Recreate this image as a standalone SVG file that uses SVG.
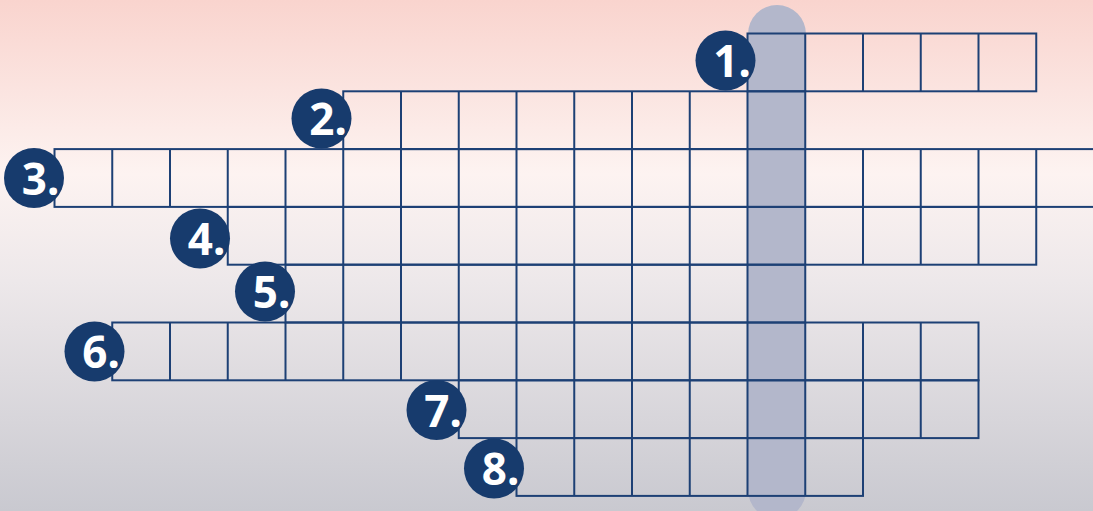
<svg xmlns="http://www.w3.org/2000/svg" width="1093" height="511" viewBox="0 0 1093 511">
  <defs>
    <linearGradient id="bg" x1="0" y1="0" x2="0" y2="1">
      <stop offset="0" stop-color="#f9d4ce"/>
      <stop offset="0.34" stop-color="#fdf3f1"/>
      <stop offset="0.55" stop-color="#ede8ea"/>
      <stop offset="1" stop-color="#c9c9d0"/>
    </linearGradient>
    <style>
      .cells { fill: none; stroke: #1d4075; stroke-width: 2; }
      .badge { fill: #173b6d; }
      .num { fill: #ffffff; font-family: "Noto Sans", "DejaVu Sans", sans-serif; font-weight: 700; font-size: 44px; text-anchor: middle; }
    </style>
  </defs>
  <rect x="0" y="0" width="1093" height="511" fill="url(#bg)"/>
  <rect id="highlight" x="748" y="5" width="58" height="514" rx="29" fill="#b3b7cb"/>

  <g id="clue-1">
    <rect class="cells" x="747.5" y="33.5" width="288.75" height="57.8"/>
    <path class="cells" d="M805.25 33.5V91.3M863 33.5V91.3M920.75 33.5V91.3M978.5 33.5V91.3"/>
  </g>
  <g id="clue-2">
    <rect class="cells" x="343.25" y="91.3" width="462" height="57.8"/>
    <path class="cells" d="M401 91.3V149.1M458.75 91.3V149.1M516.5 91.3V149.1M574.25 91.3V149.1M632 91.3V149.1M689.75 91.3V149.1M747.5 91.3V149.1"/>
  </g>
  <g id="clue-3">
    <rect class="cells" x="54.5" y="149.1" width="1039.5" height="57.8"/>
    <path class="cells" d="M112.25 149.1V206.9M170 149.1V206.9M227.75 149.1V206.9M285.5 149.1V206.9M343.25 149.1V206.9M401 149.1V206.9M458.75 149.1V206.9M516.5 149.1V206.9M574.25 149.1V206.9M632 149.1V206.9M689.75 149.1V206.9M747.5 149.1V206.9M805.25 149.1V206.9M863 149.1V206.9M920.75 149.1V206.9M978.5 149.1V206.9M1036.25 149.1V206.9"/>
  </g>
  <g id="clue-4">
    <rect class="cells" x="227.75" y="206.9" width="808.5" height="57.8"/>
    <path class="cells" d="M285.5 206.9V264.7M343.25 206.9V264.7M401 206.9V264.7M458.75 206.9V264.7M516.5 206.9V264.7M574.25 206.9V264.7M632 206.9V264.7M689.75 206.9V264.7M747.5 206.9V264.7M805.25 206.9V264.7M863 206.9V264.7M920.75 206.9V264.7M978.5 206.9V264.7"/>
  </g>
  <g id="clue-5">
    <rect class="cells" x="285.5" y="264.7" width="519.75" height="57.8"/>
    <path class="cells" d="M343.25 264.7V322.5M401 264.7V322.5M458.75 264.7V322.5M516.5 264.7V322.5M574.25 264.7V322.5M632 264.7V322.5M689.75 264.7V322.5M747.5 264.7V322.5"/>
  </g>
  <g id="clue-6">
    <rect class="cells" x="112.25" y="322.5" width="866.25" height="57.8"/>
    <path class="cells" d="M170 322.5V380.3M227.75 322.5V380.3M285.5 322.5V380.3M343.25 322.5V380.3M401 322.5V380.3M458.75 322.5V380.3M516.5 322.5V380.3M574.25 322.5V380.3M632 322.5V380.3M689.75 322.5V380.3M747.5 322.5V380.3M805.25 322.5V380.3M863 322.5V380.3M920.75 322.5V380.3"/>
  </g>
  <g id="clue-7">
    <rect class="cells" x="458.75" y="380.3" width="519.75" height="57.8"/>
    <path class="cells" d="M516.5 380.3V438.1M574.25 380.3V438.1M632 380.3V438.1M689.75 380.3V438.1M747.5 380.3V438.1M805.25 380.3V438.1M863 380.3V438.1M920.75 380.3V438.1"/>
  </g>
  <g id="clue-8">
    <rect class="cells" x="516.5" y="438.1" width="346.5" height="57.8"/>
    <path class="cells" d="M574.25 438.1V495.9M632 438.1V495.9M689.75 438.1V495.9M747.5 438.1V495.9M805.25 438.1V495.9"/>
  </g>

  <g id="badge-1"><circle class="badge" cx="725.5" cy="60.5" r="30"/><text class="num" x="732" y="77">1.</text></g>
  <g id="badge-2"><circle class="badge" cx="321.5" cy="118.5" r="30"/><text class="num" x="328" y="135">2.</text></g>
  <g id="badge-3"><circle class="badge" cx="34" cy="178" r="30"/><text class="num" x="40.5" y="194.5">3.</text></g>
  <g id="badge-4"><circle class="badge" cx="200" cy="238.5" r="30"/><text class="num" x="206.5" y="255">4.</text></g>
  <g id="badge-5"><circle class="badge" cx="265" cy="291.5" r="30"/><text class="num" x="271.5" y="308">5.</text></g>
  <g id="badge-6"><circle class="badge" cx="94.5" cy="351.5" r="30"/><text class="num" x="101" y="368">6.</text></g>
  <g id="badge-7"><circle class="badge" cx="436.5" cy="410" r="30"/><text class="num" x="443" y="426.5">7.</text></g>
  <g id="badge-8"><circle class="badge" cx="494" cy="468.5" r="30"/><text class="num" x="500.5" y="485">8.</text></g>

  <g id="connectors"/>
</svg>
